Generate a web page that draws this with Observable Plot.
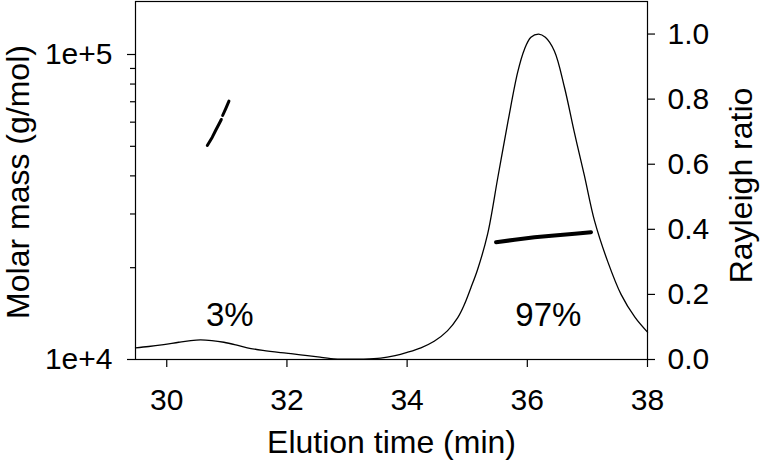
<!DOCTYPE html>
<html>
<head>
<meta charset="utf-8">
<script src="https://cdn.jsdelivr.net/npm/d3@7"></script>
<script src="https://cdn.jsdelivr.net/npm/@observablehq/plot@0.6"></script>
<style>
  html, body { margin: 0; padding: 0; background: #fff; }
  #chart { width: 760px; height: 463px; }
</style>
</head>
<body>
<div id="chart"></div>
<script>
// Elution time (min) and Rayleigh ratio of the light-scattering trace
const curveTime  = [29.48, 29.7, 29.95, 30.2, 30.4, 30.56, 30.75, 30.95, 31.15, 31.34, 31.6, 31.9, 32.1, 32.34, 32.55, 32.73, 33.0, 33.28, 33.56, 33.8, 34.0, 34.23, 34.45, 34.67, 34.84, 34.95, 35.06, 35.17, 35.34, 35.51, 35.68, 35.84, 35.95, 36.06, 36.19, 36.3, 36.45, 36.62, 36.78, 36.95, 37.12, 37.34, 37.56, 37.79, 38.0];
const curveRatio = [0.036, 0.040, 0.046, 0.053, 0.058, 0.060, 0.058, 0.053, 0.045, 0.036, 0.028, 0.021, 0.017, 0.012, 0.007, 0.003, 0.001, 0.001, 0.004, 0.012, 0.022, 0.036, 0.056, 0.088, 0.128, 0.168, 0.22, 0.275, 0.386, 0.56, 0.733, 0.883, 0.952, 0.99, 1.0, 0.99, 0.948, 0.835, 0.70, 0.565, 0.425, 0.30, 0.20, 0.13, 0.084];

// Molar mass (g/mol) segments
const mass1Time = [30.675, 30.758, 30.813, 30.885, 30.908, NaN, 30.93, 30.98, 31.035];
const mass1Mass = [50300, 53570, 56330, 59980, 61240, NaN, 63100, 66370, 70330];
const mass2Time = [35.48, 35.79, 36.12, 36.45, 36.79, 37.06];
const mass2Mass = [24250, 24690, 25180, 25500, 25830, 26150];

// Peak percentages
const annoLabel = ["3%", "97%"];
const annoTime  = [31.05, 36.35];
const annoRatio = [0.136, 0.136];

// Axes
const xTicks = [30, 32, 34, 36, 38];
const massMajor = [1e4, 1e5];
const massMinor = [2e4, 3e4, 4e4, 5e4, 6e4, 7e4, 8e4, 9e4];
const ratioTicks = [0, 0.2, 0.4, 0.6, 0.8, 1.0];
const xDomain = [29.48, 38];
const massDomain = [1e4, 149200];
const ratioMax = 1.1;

// Right (linear) axis expressed on the left (log) scale
const span = Math.log10(massDomain[1] / massDomain[0]);
const toM = r => massDomain[0] * Math.pow(10, (r / ratioMax) * span);
const fromM = m => Math.log10(m / massDomain[0]) / span * ratioMax;

const curve = curveTime.map((t, i) => ({t, r: curveRatio[i]}));
const mass1 = mass1Time.map((t, i) => ({t, m: mass1Mass[i]}));
const mass2 = mass2Time.map((t, i) => ({t, m: mass2Mass[i]}));
const annos = annoLabel.map((label, i) => ({label, t: annoTime[i], r: annoRatio[i]}));

const font = "'Liberation Sans', Arial, Helvetica, sans-serif";
const tickFont = 30;
const titleFont = 32;

const chart = Plot.plot({
  width: 760,
  height: 463,
  marginLeft: 135,
  marginRight: 113,
  marginTop: 1,
  marginBottom: 104,
  style: {fontFamily: font, fontSize: "30px", color: "#000", background: "#fff", overflow: "visible"},
  x: {domain: xDomain},
  y: {type: "log", domain: massDomain},
  marks: [
    Plot.frame({stroke: "#000", strokeWidth: 1.2}),
    Plot.axisX(xTicks, {anchor: "bottom", tickSize: 8, tickPadding: 21, strokeWidth: 1.2, fontSize: tickFont, label: null, tickFormat: d => String(d)}),
    Plot.axisY(massMajor, {anchor: "left", tickSize: 8, tickPadding: 15, strokeWidth: 1.2, fontSize: tickFont, label: null, tickFormat: d => "1e+" + Math.round(Math.log10(d))}),
    Plot.axisY(massMinor, {anchor: "left", tickSize: 5, tickPadding: 0, strokeWidth: 1.2, label: null, tickFormat: () => ""}),
    Plot.axisY(ratioTicks.map(toM), {anchor: "right", tickSize: 7, tickPadding: 13, strokeWidth: 1.2, fontSize: tickFont, label: null, tickFormat: d => fromM(d).toFixed(1)}),
    Plot.line(curve, {x: "t", y: d => toM(d.r), stroke: "#000", strokeWidth: 1.3, curve: "catmull-rom"}),
    Plot.line(mass1, {x: "t", y: "m", stroke: "#000", strokeWidth: 3}),
    Plot.line(mass2, {x: "t", y: "m", stroke: "#000", strokeWidth: 4}),
    Plot.text(annos, {x: "t", y: d => toM(d.r), text: "label", fontSize: 33, fill: "#000"}),
    Plot.text(["Elution time (min)"], {frameAnchor: "bottom", textAnchor: "middle", dy: 93, fontSize: titleFont, fill: "#000"}),
    Plot.text(["Molar mass (g/mol)"], {frameAnchor: "left", textAnchor: "middle", dx: -117, dy: 1.5, rotate: -90, fontSize: titleFont, fill: "#000"}),
    Plot.text(["Rayleigh ratio"], {frameAnchor: "right", textAnchor: "middle", dx: 94, dy: 5, rotate: -90, fontSize: titleFont, fill: "#000"})
  ]
});
document.getElementById("chart").appendChild(chart);
</script>
</body>
</html>
